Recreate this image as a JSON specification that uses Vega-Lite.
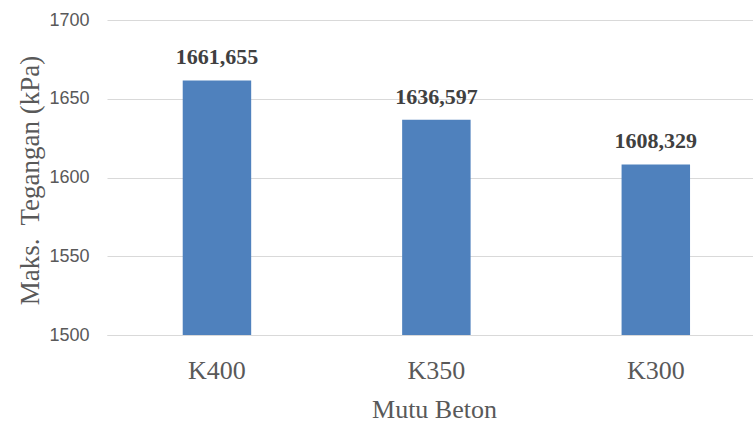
{
  "$schema": "https://vega.github.io/schema/vega-lite/v6.json",
  "width": 646,
  "height": 315,
  "autosize": "none",
  "padding": {"left": 107, "top": 20, "right": 0, "bottom": 86},
  "background": "white",
  "config": {
    "view": {"stroke": null},
    "locale": {"number": {"decimal": ",", "thousands": ".", "grouping": [3], "currency": ["", ""]}}
  },
  "data": {
    "values": [
      {"mutu": "K400", "tegangan": 1661.655},
      {"mutu": "K350", "tegangan": 1636.597},
      {"mutu": "K300", "tegangan": 1608.329}
    ]
  },
  "encoding": {
    "x": {
      "field": "mutu",
      "type": "nominal",
      "sort": null,
      "scale": {"paddingInner": 0.688, "paddingOuter": 0.316, "align": 0.546},
      "axis": {
        "title": "Mutu Beton",
        "titleFont": "Liberation Serif",
        "titleFontSize": 26,
        "titleFontWeight": "normal",
        "titleColor": "#595959",
        "titleX": 327,
        "titleY": 82,
        "titleBaseline": "alphabetic",
        "titleAlign": "center",
        "labelFont": "Liberation Serif",
        "labelFontSize": 26,
        "labelColor": "#595959",
        "labelAngle": 0,
        "labelPadding": 22,
        "ticks": false,
        "tickSize": 0,
        "domainColor": "#d9d9d9",
        "domainWidth": 1,
        "grid": false
      }
    },
    "y": {
      "field": "tegangan",
      "type": "quantitative",
      "scale": {"domain": [1500, 1700], "zero": false, "nice": false},
      "axis": {
        "title": "Maks.\u00a0 Tegangan (kPa)",
        "titleFont": "Liberation Serif",
        "titleFontSize": 27,
        "titleFontWeight": "normal",
        "titleColor": "#595959",
        "titleAngle": -90,
        "titleX": -69,
        "titleY": 160,
        "titleBaseline": "alphabetic",
        "titleAlign": "center",
        "values": [1500, 1550, 1600, 1650, 1700],
        "format": "d",
        "labelFont": "Liberation Sans",
        "labelFontSize": 18,
        "labelColor": "#595959",
        "labelPadding": 18,
        "ticks": false,
        "domain": false,
        "grid": true,
        "gridColor": "#d9d9d9",
        "gridWidth": 1
      }
    }
  },
  "layer": [
    {
      "mark": {"type": "bar", "color": "#4f81bd"},
      "encoding": {
        "y2": {"datum": 1500}
      }
    },
    {
      "mark": {
        "type": "text",
        "font": "Liberation Serif",
        "fontSize": 22,
        "fontWeight": "bold",
        "color": "#404040",
        "baseline": "alphabetic",
        "dy": -16
      },
      "encoding": {
        "text": {"field": "tegangan", "type": "quantitative", "format": ".3f"}
      }
    }
  ]
}
